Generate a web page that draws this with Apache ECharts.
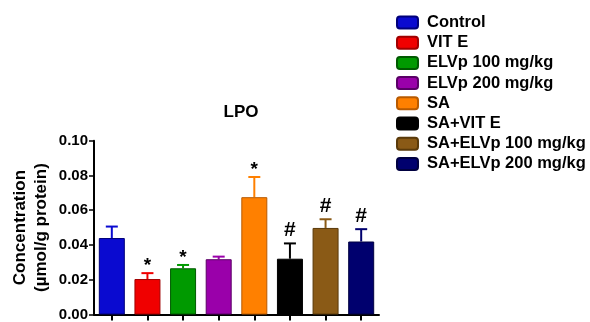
<!DOCTYPE html>
<html><head><meta charset="utf-8">
<script src="https://cdn.jsdelivr.net/npm/echarts@6/dist/echarts.min.js"></script>
<style>html,body{margin:0;padding:0;background:#fff}#c{width:590px;height:322px}</style>
</head><body><div id="c"></div>
<script>
var categories = ['Control','VIT E','ELVp 100 mg/kg','ELVp 200 mg/kg','SA','SA+VIT E','SA+ELVp 100 mg/kg','SA+ELVp 200 mg/kg'];
var means = [0.044, 0.0204, 0.0266, 0.0318, 0.0675, 0.0321, 0.0498, 0.0420];
var errUpper = [0.0506, 0.0238, 0.0285, 0.0333, 0.0791, 0.0409, 0.0548, 0.0491];
var marks = ['', '*', '*', '', '*', '#', '#', '#'];
var yTicks = [0, 0.02, 0.04, 0.06, 0.08, 0.10];
var colors = ['#0a0ad0','#f00000','#009a00','#9a00aa','#ff8000','#000000','#8a5a16','#00006e'];
var borders = ['#00007a','#a00000','#005a00','#5a0066','#b85a00','#000000','#5a3a0a','#000040'];

var FONT = 'Liberation Sans, Arial, sans-serif';
var chart = echarts.init(document.getElementById('c'), null, {renderer:'canvas'});
var series = categories.map(function(name, i){
  var d = categories.map(function(_, j){ return j === i ? means[j] : '-'; });
  return {
    name: name, type: 'bar', stack: 'all', barWidth: 26, data: d,
    itemStyle: {color: colors[i], borderColor: borders[i], borderWidth: 1},
    emphasis: {disabled: true}
  };
});
series.push({
  type: 'custom', name: 'err',
  data: categories.map(function(_, i){ return [i, means[i], errUpper[i], marks[i]]; }),
  encode: {x: 0, y: [1, 2]},
  z: 1,
  renderItem: function(params, api){
    var i = api.value(0);
    var top = api.coord([i, api.value(1)]);
    var up = api.coord([i, api.value(2)]);
    var m = marks[i];
    var c = colors[i];
    var children = [
      {type:'line', shape:{x1: top[0], y1: top[1], x2: up[0], y2: up[1]}, style:{stroke: c, lineWidth: 2}},
      {type:'line', shape:{x1: up[0]-6, y1: up[1], x2: up[0]+6, y2: up[1]}, style:{stroke: c, lineWidth: 2}}
    ];
    if (m) {
      var isHash = m === '#';
      children.push({type:'text', x: up[0], y: up[1] - (isHash ? 13 : 17),
        style:{text: m, fill:'#000', font: 'bold ' + (isHash ? 21 : 19) + 'px ' + FONT,
          align:'center', verticalAlign: isHash ? 'middle' : 'top'}});
    }
    return {type:'group', children: children};
  }
});

chart.setOption({
  animation: false,
  title: {text: 'LPO', left: 236, top: 99, textAlign: 'center',
    textStyle: {fontFamily: FONT, fontWeight: 'bold', fontSize: 17, color: '#000'}},
  legend: {
    orient: 'vertical', left: 391, top: 9, itemWidth: 21, itemHeight: 12, itemGap: 3.2,
    icon: 'roundRect', data: categories,
    textStyle: {fontFamily: FONT, fontWeight: 'bold', fontSize: 16.5, color: '#000', padding: [0,0,0,4]},
    selectedMode: false
  },
  grid: {left: 94, right: 211, top: 140.7, bottom: 6, containLabel: false},
  xAxis: {
    type: 'category', data: categories,
    axisLine: {lineStyle: {color: '#000', width: 2}},
    axisTick: {show: true, interval: 0, alignWithLabel: true, length: 6, lineStyle: {color: '#000', width: 2}},
    axisLabel: {show: false, interval: 0}
  },
  yAxis: {
    type: 'value', min: 0, max: 0.1, interval: 0.02,
    name: 'Concentration\n(µmol/g protein)', nameLocation: 'middle', nameGap: 42, nameRotate: 90,
    nameTextStyle: {fontFamily: FONT, fontWeight: 'bold', fontSize: 17, color: '#000', lineHeight: 21},
    axisLine: {show: true, lineStyle: {color: '#000', width: 2}},
    axisTick: {show: true, length: 5, lineStyle: {color: '#000', width: 1.5}},
    splitLine: {show: false},
    axisLabel: {fontFamily: FONT, fontWeight: 'bold', fontSize: 15, color: '#000', margin: 6,
      formatter: function(v){ return v.toFixed(2); }}
  },
  series: series
});
</script></body></html>
